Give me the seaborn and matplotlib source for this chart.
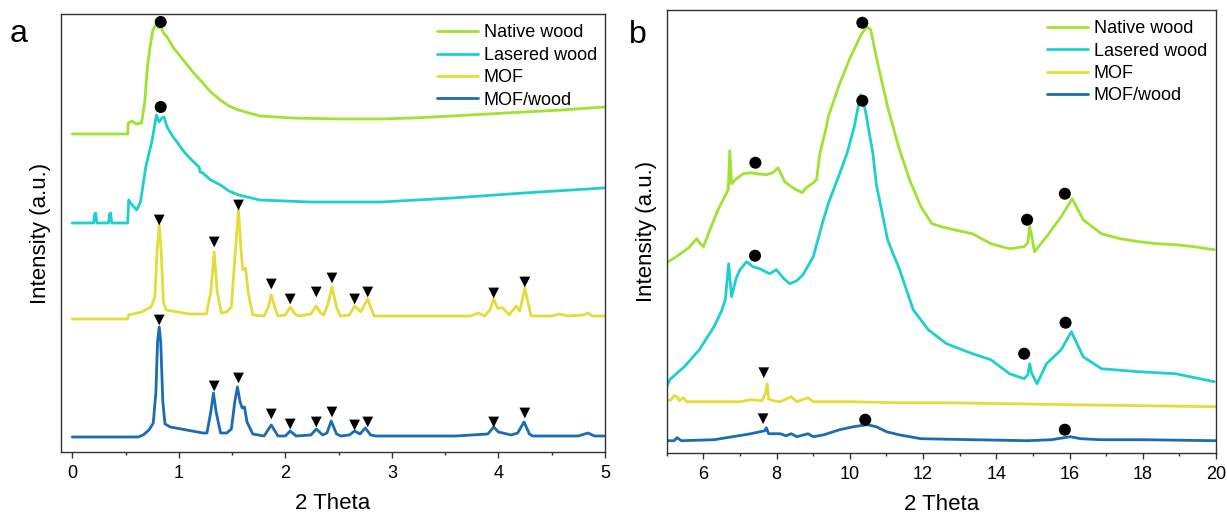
import matplotlib
matplotlib.use("Agg")
import matplotlib.pyplot as plt
import seaborn as sns
from matplotlib.ticker import MultipleLocator

# Series names and colours
labels = ["Native wood", "Lasered wood", "MOF", "MOF/wood"]
colors = ["#A0E232", "#1ECFCF", "#E5DC3A", "#1A6CB4"]

# ---- panel a (low angle), intensities already stacked ----
native_a_x = [0.00, 0.52, 0.525, 0.56, 0.60, 0.65, 0.68, 0.705, 0.73, 0.756, 0.79, 0.81, 0.835, 0.856,
              0.89, 0.95, 1.057, 1.14, 1.225, 1.30, 1.39, 1.47, 1.56, 1.76, 2.06, 2.50, 2.90, 3.20,
              3.57, 3.90, 4.24, 4.60, 4.99]
native_a_y = [318, 318, 329, 331, 328, 329, 350, 385, 405, 422, 428, 424, 425, 419,
              415, 404, 390, 379, 369, 360, 352, 346, 342, 336, 334, 333, 333, 334,
              336, 338, 340, 342, 345]

lasered_a_x = [0.00, 0.20, 0.21, 0.22, 0.23, 0.34, 0.35, 0.36, 0.37, 0.52, 0.53, 0.54, 0.57, 0.605,
               0.64, 0.69, 0.75, 0.79, 0.815, 0.84, 0.86, 0.89, 0.94, 0.99, 1.05, 1.12, 1.19, 1.20,
               1.225, 1.30, 1.39, 1.47, 1.56, 1.76, 2.23, 2.90, 3.57, 4.24, 4.99]
lasered_a_y = [229, 229, 238, 239, 229, 229, 238, 239, 229, 229, 252, 250, 246, 242,
               250, 285, 312, 337, 330, 334, 335, 325, 316, 309, 300, 292, 285, 280,
               279, 272, 267, 261, 257, 252, 250, 250, 254, 259, 264]

mof_a_x = [0.00, 0.52, 0.53, 0.65, 0.74, 0.775, 0.795, 0.816, 0.835, 0.855, 0.88, 1.10, 1.258, 1.30,
           1.332, 1.36, 1.399, 1.45, 1.493, 1.53, 1.56, 1.585, 1.60, 1.627, 1.65, 1.694, 1.80, 1.84,
           1.868, 1.90, 1.93, 2.00, 2.045, 2.09, 2.13, 2.24, 2.29, 2.33, 2.36, 2.40, 2.437, 2.48,
           2.515, 2.60, 2.65, 2.706, 2.773, 2.80, 2.833, 3.20, 3.74, 3.81, 3.87, 3.92, 3.955, 3.99,
           4.04, 4.10, 4.166, 4.20, 4.247, 4.28, 4.307, 4.50, 4.575, 4.65, 4.80, 4.84, 4.88, 4.99]
mof_a_y = [133, 133, 137, 140, 145, 155, 200, 227, 200, 150, 142, 138, 138, 160,
           200, 160, 139, 140, 145, 200, 242, 200, 182, 184, 160, 137, 136, 145,
           157, 145, 136, 137, 145, 138, 136, 138, 146, 139, 137, 148, 165, 145,
           136, 137, 146, 140, 153, 145, 136, 136, 136, 139, 136, 142, 153, 144,
           144, 137, 146, 141, 164, 148, 136, 136, 138, 136, 137, 139, 136, 136]

mofwood_a_x = [0.00, 0.62, 0.665, 0.72, 0.76, 0.785, 0.80, 0.816, 0.83, 0.85, 0.87, 0.92, 1.225, 1.264,
               1.30, 1.325, 1.35, 1.392, 1.45, 1.493, 1.525, 1.55, 1.575, 1.595, 1.616, 1.64, 1.694,
               1.80, 1.868, 1.93, 2.00, 2.045, 2.10, 2.24, 2.29, 2.35, 2.39, 2.43, 2.48, 2.52, 2.60,
               2.65, 2.70, 2.75, 2.80, 2.85, 3.60, 3.75, 3.90, 3.955, 4.00, 4.04, 4.12, 4.18, 4.24,
               4.29, 4.32, 4.75, 4.84, 4.90, 4.99]
mofwood_a_y = [15, 15, 17, 22, 29, 60, 110, 125, 110, 50, 28, 25, 19, 19,
               40, 59, 40, 19, 19, 23, 50, 65, 50, 44, 45, 30, 18,
               16, 27, 16, 16, 21, 16, 17, 23, 17, 19, 31, 18, 16, 17,
               21, 18, 24, 17, 16, 16, 17, 18, 25, 20, 19, 17, 19, 30,
               18, 16, 16, 19, 16, 16]

# peak markers, panel a
dot_a_x = [0.83, 0.83]
dot_a_y = [430, 345]
tri_a_x = [0.816, 1.332, 1.56, 1.868, 2.045, 2.29, 2.437, 2.65, 2.773, 3.955, 4.247]
tri_mof_a_y = [232, 210, 247, 168, 153, 160, 174, 153, 160, 159, 170]
tri_mofwood_a_y = [132, 66, 74, 38, 28, 30, 40, 27, 30, 30, 39]

# ---- panel b (wide angle) ----
native_b_x = [5.00, 5.30, 5.60, 5.82, 5.90, 6.00, 6.18, 6.40, 6.54, 6.68, 6.72, 6.77, 6.90, 7.09,
              7.30, 7.45, 7.72, 7.90, 8.04, 8.22, 8.40, 8.54, 8.70, 8.81, 9.00, 9.09, 9.18, 9.36,
              9.41, 9.72, 10.02, 10.32, 10.47, 10.57, 10.72, 11.03, 11.33, 11.63, 11.94, 12.24,
              12.50, 12.84, 13.35, 13.85, 14.36, 14.76, 14.86, 14.91, 14.96, 15.04, 15.37, 15.77,
              16.07, 16.37, 16.87, 17.38, 17.90, 18.39, 18.90, 19.40, 19.95]
native_b_y = [190, 197, 205, 214, 210, 206, 223, 243, 253, 263, 302, 269, 274, 279,
              280, 279, 278, 280, 285, 271, 266, 263, 260, 265, 270, 273, 299, 326,
              336, 369, 396, 419, 426, 423, 396, 346, 306, 273, 246, 229,
              226, 223, 219, 209, 204, 206, 210, 226, 218, 201, 216, 236,
              254, 233, 219, 214, 211, 209, 208, 206, 203]

lasered_b_x = [5.00, 5.08, 5.48, 5.89, 6.29, 6.50, 6.60, 6.69, 6.77, 6.90, 7.00, 7.18, 7.35, 7.54,
               7.81, 7.99, 8.20, 8.36, 8.55, 8.72, 9.00, 9.27, 9.41, 9.72, 9.92, 10.12, 10.29, 10.42,
               10.63, 10.72, 11.03, 11.18, 11.33, 11.73, 12.14, 12.64, 13.35, 13.85, 14.36, 14.76,
               14.86, 14.91, 14.96, 15.11, 15.37, 15.77, 16.05, 16.37, 16.87, 17.88, 18.89, 19.95]
lasered_b_y = [66, 73, 86, 103, 126, 142, 153, 189, 156, 175, 183, 191, 186, 184,
               179, 183, 174, 169, 172, 178, 196, 232, 249, 279, 299, 326, 358, 343,
               299, 269, 213, 199, 186, 143, 123, 109, 99, 93, 79, 74,
               78, 89, 80, 69, 89, 103, 121, 96, 84, 81, 79, 71]

mof_b_x = [5.00, 5.12, 5.20, 5.28, 5.35, 5.45, 5.55, 6.00, 7.00, 7.30, 7.60, 7.70, 7.74, 7.78,
           7.90, 8.10, 8.40, 8.55, 8.86, 9.00, 10.00, 11.33, 12.50, 14.36, 16.00, 18.00, 20.00]
mof_b_y = [52, 53, 57, 56, 52, 55, 51, 51, 51, 53, 52, 60, 69, 54,
           52, 51, 56, 51, 55, 51, 51, 50, 50, 49, 48, 47, 46]

mofwood_b_x = [5.00, 5.20, 5.28, 5.40, 6.29, 6.80, 7.30, 7.55, 7.68, 7.72, 7.78, 8.10, 8.25, 8.40,
               8.55, 8.86, 9.00, 9.30, 9.72, 10.10, 10.47, 10.72, 11.00, 11.33, 11.94, 13.35, 14.86,
               15.50, 16.02, 16.30, 16.87, 18.00, 20.00]
mofwood_b_y = [12, 12, 15, 12, 13, 16, 19, 21, 22, 25, 19, 19, 17, 19,
               16, 19, 16, 18, 23, 26, 28, 26, 21, 18, 14, 13, 12,
               13, 16, 14, 13, 13, 12]

# peak markers, panel b
dot_b_x = [10.34, 7.42, 14.84, 15.87, 10.34, 7.41, 14.76, 15.89, 10.42, 15.87]
dot_b_y = [430, 290, 233, 259, 352, 197, 99, 130, 33, 23]
tri_b_x = [7.65, 7.63]
tri_b_y = [80, 34]

sns.set_style("white")
plt.rcParams["font.family"] = ["Liberation Sans", "DejaVu Sans"]
plt.rcParams["text.color"] = "black"
plt.rcParams["axes.labelcolor"] = "black"
plt.rcParams["xtick.color"] = "black"

fig = plt.figure(figsize=(12.27, 5.2), dpi=100)
ax_a = fig.add_axes([0.0497, 0.1308, 0.4434, 0.8423])
ax_b = fig.add_axes([0.5434, 0.1294, 0.4477, 0.8513])

series_a = [(native_a_x, native_a_y), (lasered_a_x, lasered_a_y),
            (mof_a_x, mof_a_y), (mofwood_a_x, mofwood_a_y)]
series_b = [(native_b_x, native_b_y), (lasered_b_x, lasered_b_y),
            (mof_b_x, mof_b_y), (mofwood_b_x, mofwood_b_y)]

for ax, series in [(ax_a, series_a), (ax_b, series_b)]:
    for (xs, ys), lab, col in zip(series, labels, colors):
        sns.lineplot(x=xs, y=ys, ax=ax, sort=False, estimator=None,
                     color=col, lw=2.0, label=lab)

# markers
sns.scatterplot(x=dot_a_x, y=dot_a_y, ax=ax_a, marker="o", s=75, color="black",
                edgecolor="none", zorder=5, legend=False)
sns.scatterplot(x=tri_a_x + tri_a_x, y=tri_mof_a_y + tri_mofwood_a_y, ax=ax_a, marker="v",
                s=60, color="black", edgecolor="none", zorder=5, legend=False)
sns.scatterplot(x=dot_b_x, y=dot_b_y, ax=ax_b, marker="o", s=75, color="black",
                edgecolor="none", zorder=5, legend=False)
sns.scatterplot(x=tri_b_x, y=tri_b_y, ax=ax_b, marker="v", s=60, color="black",
                edgecolor="none", zorder=5, legend=False)

ax_a.set_xlim(-0.106, 5.0)
ax_a.set_ylim(0, 438)
ax_b.set_xlim(5, 20)
ax_b.set_ylim(0, 442.7)
ax_a.xaxis.set_major_locator(MultipleLocator(1))
ax_a.xaxis.set_minor_locator(MultipleLocator(0.5))
ax_b.xaxis.set_major_locator(MultipleLocator(2))
ax_b.xaxis.set_minor_locator(MultipleLocator(1))

for ax, anchor in [(ax_a, (0.691, 0.976)), (ax_b, (0.692, 0.977))]:
    for sp in ax.spines.values():
        sp.set_visible(True)
        sp.set_color("#333333")
        sp.set_linewidth(1.0)
    ax.set_yticks([])
    ax.tick_params(axis="x", which="major", direction="out", length=4.5, width=1,
                   color="#333333", labelsize=13, pad=5, bottom=True, top=False)
    ax.tick_params(axis="x", which="minor", direction="out", length=2.5, width=1,
                   color="#333333", bottom=True, top=False)
    ax.set_xlabel("2 Theta", fontsize=16, labelpad=8)
    ax.set_ylabel("Intensity (a.u.)", fontsize=16, labelpad=7)
    leg = ax.legend(loc="upper left", bbox_to_anchor=anchor, frameon=False, fontsize=13,
                    handlelength=2.3, handletextpad=0.3, labelspacing=0.3,
                    borderpad=0, borderaxespad=0)
    for line in leg.get_lines():
        line.set_linewidth(2.0)

fig.text(0.008, 0.919, "a", fontsize=23, va="baseline")
fig.text(0.513, 0.917, "b", fontsize=23, va="baseline")

fig.savefig("out.png", dpi=100)
